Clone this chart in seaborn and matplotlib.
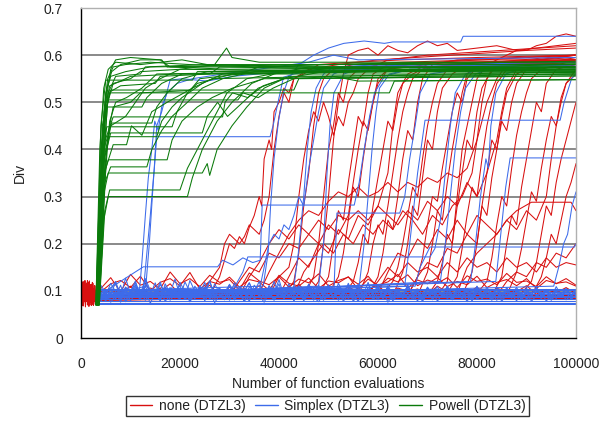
import numpy as np
import pandas as pd
import matplotlib
matplotlib.use("Agg")
import matplotlib.pyplot as plt
from matplotlib.lines import Line2D
from matplotlib.ticker import MultipleLocator, FuncFormatter
import seaborn as sns

# ---------------------------------------------------------------------------
# Diversity (Div) traces for DTZL3, one trace per run.
# Breakpoints are (evaluations in thousands, Div).
# ---------------------------------------------------------------------------

methods = ["none (DTZL3)", "Simplex (DTZL3)", "Powell (DTZL3)"]
method_colors = ["#d81010", "#3d6bea", "#0a7a0a"]

# Powell: fast rise after ~3000 evaluations, then stepwise climb to ~0.57
powell_runs = [
    [(3.0, .07), (3.9, .30), (4.6, .48), (5.4, .55), (6.5, .575), (9, .58), (14, .585), (22, .58), (35, .575), (50, .58), (70, .585), (85, .58), (100, .582)],
    [(3.2, .07), (4.2, .32), (5.0, .50), (6.0, .57), (7, .59), (10, .595), (16, .59), (18, .575), (30, .57), (50, .572), (75, .575), (100, .57)],
    [(3.4, .07), (4.4, .35), (5.5, .52), (7, .555), (12, .56), (13, .575), (25, .58), (45, .575), (65, .57), (100, .575)],
    [(3.1, .07), (4.1, .33), (4.8, .45), (5.5, .52), (8, .535), (15, .54), (16, .555), (26, .56), (28, .575), (60, .57), (100, .568)],
    [(3.5, .07), (4.6, .30), (5.6, .44), (6.5, .49), (10, .50), (12, .52), (22, .525), (24, .55), (32, .56), (36, .575), (100, .573)],
    [(3.3, .07), (4.3, .28), (5.2, .40), (6, .45), (9, .47), (11, .50), (13, .53), (16, .55), (20, .57), (27, .58), (29.4, .615), (30.5, .595), (36, .585), (100, .585)],
    [(3.6, .07), (4.6, .25), (5.5, .30), (21.5, .30), (22.5, .34), (24.5, .40), (27.5, .46), (30.5, .50), (34.5, .54), (39, .56), (46, .575), (100, .575)],
    [(3.7, .07), (4.8, .27), (5.8, .314), (20, .314), (21.5, .36), (24.5, .42), (27.5, .48), (29.5, .52), (33.5, .55), (41, .565), (100, .568)],
    [(3.4, .07), (4.5, .30), (5.5, .35), (24.5, .35), (25.5, .37), (26, .345), (27.5, .40), (30.5, .45), (33.5, .49), (37, .53), (42, .555), (100, .56)],
    [(3.6, .07), (4.8, .33), (6, .363), (13.3, .363), (14.3, .40), (16.3, .44), (18.4, .47), (21.5, .50), (24.5, .53), (28.6, .55), (35, .565), (100, .57)],
    [(3.3, .07), (4.5, .34), (5.5, .378), (17.4, .378), (18.4, .42), (20.4, .46), (23.5, .49), (26.5, .51), (30.6, .53), (37, .55), (100, .556)],
    [(3.2, .07), (4.3, .36), (5.5, .427), (15.3, .427), (16.3, .46), (18.4, .49), (20.4, .51), (24.5, .54), (28.6, .56), (100, .57)],
    [(3.5, .07), (4.7, .38), (6, .435), (24.5, .435), (25.5, .47), (27.6, .50), (29.6, .47), (32.7, .50), (35.8, .53), (41, .55), (100, .56)],
    [(3.1, .07), (4.0, .35), (5.2, .448), (18.4, .448), (19.4, .48), (21.5, .52), (23.5, .54), (30.6, .56), (100, .575)],
    [(3.4, .07), (4.6, .40), (6.2, .456), (14.3, .456), (15.3, .49), (17.4, .52), (20.4, .55), (25.5, .565), (100, .58)],
    [(3.6, .07), (4.9, .42), (6.5, .469), (28.6, .469), (29.1, .50), (30.6, .52), (33.7, .51), (36.8, .535), (41, .55), (49, .565), (100, .565)],
    [(3.0, .07), (4.0, .40), (5.0, .49), (12.3, .49), (13.3, .51), (16.3, .54), (20.4, .56), (100, .57)],
    [(3.3, .07), (4.4, .44), (5.5, .505), (31.7, .505), (32.7, .52), (35.8, .51), (38.8, .53), (43, .55), (51, .555), (56, .545), (100, .548)],
    [(3.2, .07), (4.3, .45), (5.8, .52), (62.3, .52), (63.3, .545), (100, .548)],
    [(3.4, .07), (4.5, .46), (6, .526), (43, .526), (44, .55), (100, .556)],
    [(3.1, .07), (4.0, .45), (5.0, .547), (22.5, .547), (23.5, .565), (100, .57)],
    [(3.5, .07), (4.4, .42), (5.2, .53), (6.2, .565), (8, .58), (12, .59), (16.3, .59), (17.4, .575), (100, .575)],
    [(3.0, .07), (3.8, .40), (4.6, .53), (5.5, .57), (7, .585), (12, .58), (20.4, .59), (25.5, .58), (100, .58)],
    [(3.6, .07), (4.5, .38), (5.4, .50), (6.5, .54), (10, .55), (12, .565), (20, .57), (60, .565), (100, .563)],
    [(3.3, .07), (4.2, .40), (5.0, .52), (6, .555), (9, .565), (14, .575), (100, .587)],
    [(3.2, .07), (4.1, .37), (4.9, .49), (5.8, .535), (8, .545), (10, .555), (19.4, .56), (100, .56)],
    [(3.7, .07), (5, .36), (6.5, .41), (9.2, .41), (10.2, .45), (12.3, .43), (14.3, .48), (17.4, .50), (22.5, .53), (26.5, .55), (100, .565)],
    [(3.5, .07), (4.6, .34), (5.8, .46), (7, .50), (9.2, .51), (12.3, .53), (15.3, .56), (100, .575)],
]

# Simplex: runs that leave the 0.07-0.12 band at different times
simplex_jumps = [
    [(3.5, .09), (12.6, .10), (13.3, .18), (14, .26), (14.8, .36), (15.3, .45), (16.3, .48), (18, .547), (20.4, .55), (25.5, .545), (30.6, .555), (41, .565), (56, .57), (71.5, .565), (100, .57)],
    [(3.5, .085), (13.1, .11), (13.8, .20), (14.6, .33), (15.3, .427), (38.2, .427), (38.8, .45), (39.8, .50), (40.9, .553), (43, .56), (51, .575), (71.5, .58), (100, .585)],
    [(3.5, .08), (11.8, .10), (12.3, .16), (13, .26), (13.6, .34), (14.3, .40), (14.9, .46), (15.6, .44), (16.3, .49), (17.4, .52), (19.4, .54), (22.5, .55), (28.6, .56), (35.8, .57), (46, .585), (51, .60), (56, .59), (100, .595)],
    [(3.5, .09), (12.6, .151), (27.6, .151), (28.6, .165), (30.7, .155), (32.7, .17), (34.7, .16), (36.2, .165), (36.6, .282), (55.2, .282), (56.2, .33), (57.2, .40), (58.3, .47), (59.3, .52), (61.3, .555), (66.4, .57), (100, .575)],
    [(3.5, .10), (36.8, .11), (37.8, .18), (38.3, .28), (39, .38), (39.9, .46), (40.9, .52), (41.9, .55), (44, .58), (47, .60), (50, .615), (53.1, .625), (57.2, .63), (61.3, .625), (63, .628), (76.7, .628), (77.2, .64), (100, .64)],
    [(3.5, .088), (42.9, .10), (43.9, .18), (45, .30), (45.7, .40), (46.5, .48), (47.5, .53), (49, .56), (51, .575), (61.3, .58), (100, .58)],
    [(3.5, .09), (48, .11), (49, .20), (49.7, .35), (50.3, .45), (51.1, .52), (53.1, .56), (57.2, .575), (100, .58)],
    [(3.5, .095), (30.6, .10), (32.7, .14), (33.7, .172), (70.5, .172), (71.5, .19), (72.6, .25), (73.6, .35), (74.6, .45), (75.6, .52), (77.7, .56), (81.8, .575), (100, .58)],
    [(3.5, .085), (51.1, .10), (51.7, .265), (64.4, .265), (65.4, .30), (66.4, .38), (67.5, .45), (68.5, .52), (70.5, .56), (76.7, .57), (100, .575)],
    [(3.5, .09), (65.4, .11), (66.4, .20), (68, .35), (69.5, .462), (96.8, .462), (97.6, .50), (99.1, .55), (100, .56)],
    [(3.5, .092), (83.8, .12), (84.8, .22), (85.8, .32), (86.7, .382), (100, .382)],
    [(3.5, .09), (67.5, .11), (68.5, .15), (70.5, .193), (99.7, .193), (100, .20)],
    [(3.5, .085), (72.6, .12), (73.6, .20), (74.6, .30), (75.6, .40), (76.7, .48), (77.7, .53), (79.7, .56), (83.8, .575), (100, .58)],
    [(3.5, .09), (78.7, .12), (79.7, .20), (80.7, .30), (81.8, .38), (82.3, .36), (82.8, .45), (83.8, .52), (85.8, .56), (89.9, .575), (100, .58)],
    [(3.5, .09), (56.2, .11), (57.2, .20), (58, .30), (58.8, .40), (59.6, .48), (60.3, .53), (62.3, .56), (66.4, .57), (100, .57)],
    [(3.5, .085), (95.5, .11), (96.5, .15), (97.5, .20), (98.3, .22), (99.2, .28), (100, .31)],
    [(3.5, .09), (36, .10), (37, .15), (38, .20), (39, .22), (40, .21), (41, .24), (42, .23), (43, .26), (44, .30), (45, .28), (46, .36), (47, .42), (48, .48), (49, .53), (51, .56), (55, .575), (100, .58)],
]

# Simplex runs that stay in the low band; Div in thousandths, sampled every 1000 evals from 4000
simplex_band_start = 4.0
simplex_band = [
    [95, 82, 104, 88, 112, 79, 98, 121, 86, 101, 92, 117, 84, 108, 96, 125, 89, 103, 81, 110, 94, 118, 87, 99, 106, 83, 114, 91, 102, 78, 109, 97, 120, 85, 100, 93, 115, 82, 105, 90, 111, 87, 98, 80, 107, 95, 113, 84, 101, 89, 116, 92, 103, 79, 108, 96, 111, 86, 99, 90, 104, 83, 110, 94, 100, 88, 106, 81, 97, 92, 109, 85, 102, 90, 98, 83, 105, 94, 100, 87, 108, 91, 97, 84, 103, 89, 99, 93, 106, 86, 101, 90, 96, 88, 104, 92, 98],
    [84, 101, 93, 118, 80, 106, 97, 112, 88, 123, 91, 100, 79, 115, 95, 104, 86, 119, 98, 83, 109, 92, 121, 87, 103, 96, 113, 81, 107, 99, 117, 90, 102, 85, 111, 94, 124, 88, 100, 92, 108, 82, 114, 97, 103, 89, 110, 86, 99, 94, 112, 80, 105, 91, 118, 87, 101, 95, 107, 84, 100, 92, 111, 88, 97, 83, 104, 96, 109, 90, 99, 85, 106, 93, 101, 88, 110, 82, 98, 94, 103, 87, 107, 91, 100, 85, 96, 92, 108, 89, 102, 84, 99, 93, 105, 88, 97],
    [78, 92, 85, 99, 76, 103, 88, 94, 81, 110, 86, 97, 79, 105, 91, 88, 83, 100, 77, 96, 89, 107, 82, 93, 85, 102, 80, 98, 87, 95, 78, 104, 90, 86, 99, 81, 93, 88, 101, 79, 97, 84, 106, 89, 92, 80, 100, 86, 95, 83, 103, 78, 91, 87, 98, 82, 94, 89, 101, 80, 96, 85, 92, 88, 99, 79, 95, 84, 102, 87, 91, 82, 97, 86, 93, 80, 100, 88, 94, 83, 96, 78, 92, 87, 99, 81, 95, 85, 90, 84, 98, 80, 93, 86, 97, 82, 91],
    [105, 90, 116, 98, 88, 127, 94, 109, 85, 113, 100, 92, 119, 87, 104, 96, 111, 83, 122, 99, 90, 108, 86, 115, 95, 102, 89, 117, 93, 106, 84, 112, 97, 101, 88, 120, 91, 105, 86, 110, 98, 94, 114, 89, 103, 92, 108, 85, 116, 96, 100, 90, 111, 87, 104, 93, 109, 82, 106, 97, 102, 88, 113, 91, 99, 86, 107, 94, 103, 89, 110, 92, 98, 84, 105, 95, 101, 87, 108, 90, 97, 93, 104, 86, 100, 91, 106, 88, 99, 94, 102, 85, 109, 90, 98, 92, 103],
    [88, 79, 95, 83, 101, 77, 91, 86, 98, 80, 94, 87, 103, 78, 90, 85, 97, 82, 92, 88, 100, 79, 95, 84, 89, 81, 96, 86, 93, 78, 99, 83, 90, 87, 94, 80, 97, 85, 91, 82, 98, 79, 93, 88, 95, 81, 90, 84, 99, 78, 92, 86, 96, 80, 94, 83, 89, 87, 97, 79, 91, 85, 95, 82, 93, 78, 98, 84, 90, 86, 96, 81, 92, 83, 94, 79, 97, 85, 91, 80, 95, 84, 89, 87, 93, 82, 96, 78, 90, 85, 94, 81, 92, 86, 97, 83, 90],
    [112, 96, 104, 120, 89, 108, 99, 116, 93, 126, 101, 87, 114, 95, 107, 91, 118, 98, 103, 86, 111, 97, 121, 90, 105, 94, 113, 88, 109, 100, 117, 92, 102, 85, 110, 96, 106, 89, 115, 93, 101, 87, 108, 95, 112, 90, 104, 86, 109, 97, 103, 91, 114, 88, 100, 94, 107, 85, 111, 92, 98, 89, 105, 96, 102, 87, 108, 91, 99, 93, 106, 84, 101, 95, 104, 88, 109, 90, 97, 92, 103, 86, 100, 94, 107, 89, 98, 91, 105, 87, 102, 93, 99, 88, 104, 90, 96],
    [82, 97, 76, 90, 85, 104, 79, 93, 88, 99, 74, 96, 83, 107, 80, 92, 86, 101, 77, 95, 89, 84, 98, 75, 91, 87, 103, 81, 94, 78, 100, 85, 90, 76, 97, 83, 92, 88, 105, 79, 95, 82, 99, 86, 77, 93, 89, 102, 80, 96, 84, 91, 78, 98, 87, 94, 81, 100, 76, 92, 85, 97, 83, 89, 79, 95, 86, 101, 78, 93, 84, 90, 88, 96, 77, 99, 82, 92, 85, 94, 80, 97, 87, 91, 79, 95, 83, 89, 86, 98, 78, 93, 84, 96, 81, 90, 87],
]

# Simplex runs that settle at a constant Div
simplex_flat = [0.072, 0.075, 0.079, 0.083, 0.086, 0.090, 0.093, 0.097, 0.101, 0.105]

# No local search: runs climbing late and irregularly
none_jumps = [
    [(0, .085), (26, .09), (28, .13), (30, .2), (31, .19), (32, .215), (33, .2), (34, .235), (35, .26), (36, .30), (36.5, .28), (37, .38), (38, .42), (38.5, .40), (39, .48), (40, .50), (41, .53), (42, .52), (43, .55), (45, .56), (48, .58), (55, .585), (65, .59), (80, .595), (100, .60)],
    [(0, .09), (24, .095), (26, .12), (28, .15), (29, .20), (30, .22), (31, .21), (32, .20), (33, .215), (34, .24), (35, .23), (36, .22), (37, .25), (38, .30), (39, .40), (40, .47), (41, .52), (42, .50), (43, .55), (46, .57), (52, .58), (60, .59), (75, .60), (90, .61), (100, .615)],
    [(0, .08), (38, .09), (40, .13), (42, .15), (43, .20), (44, .30), (45, .38), (46, .44), (47, .48), (48, .46), (49, .50), (50, .47), (51, .43), (52, .47), (53, .45), (54, .50), (55, .52), (56, .55), (58, .57), (62, .59), (70, .60), (85, .61), (100, .62)],
    [(0, .088), (41, .09), (43, .12), (44, .18), (45, .28), (46, .35), (47, .45), (48, .52), (49, .55), (51, .57), (55, .58), (65, .585), (80, .59), (100, .59)],
    [(0, .082), (45, .09), (47, .13), (48, .20), (49, .30), (50, .40), (51, .45), (52, .52), (53, .50), (54, .55), (56, .57), (60, .58), (70, .575), (85, .585), (100, .58)],
    [(0, .09), (36, .095), (38, .14), (40, .18), (42, .22), (44, .25), (46, .27), (48, .26), (50, .29), (52, .31), (54, .30), (56, .32), (58, .30), (60, .31), (62, .33), (64, .31), (66, .33), (68, .32), (70, .34), (72, .33), (74, .35), (76, .34), (78, .36), (80, .42), (82, .50), (84, .55), (86, .58), (100, .60)],
    [(0, .086), (46, .09), (48, .12), (49, .20), (50, .30), (51, .42), (52, .50), (53, .56), (54, .60), (56, .61), (58, .615), (60, .60), (62, .62), (64, .61), (66, .605), (68, .62), (70, .63), (72, .62), (74, .625), (76, .61), (80, .615), (84, .62), (88, .61), (92, .615), (96, .62), (100, .625)],
    [(0, .079), (72, .09), (74, .12), (75, .20), (76, .30), (77, .40), (78, .45), (79, .50), (80, .55), (82, .58), (84, .59), (86, .60), (88, .61), (90, .61), (92, .62), (94, .625), (96, .64), (98, .645), (100, .64)],
    [(0, .092), (50, .095), (52, .13), (53, .18), (54, .25), (55, .32), (56, .30), (57, .38), (58, .45), (59, .50), (60, .55), (62, .57), (66, .58), (75, .585), (100, .59)],
    [(0, .084), (53, .09), (55, .12), (56, .16), (57, .22), (58, .20), (59, .28), (60, .34), (61, .40), (62, .46), (63, .44), (64, .50), (65, .54), (67, .56), (70, .575), (80, .58), (100, .585)],
    [(0, .088), (56, .09), (58, .14), (59, .20), (60, .24), (61, .22), (62, .28), (63, .35), (64, .42), (65, .48), (66, .52), (67, .55), (69, .57), (75, .58), (100, .595)],
    [(0, .081), (58, .09), (60, .13), (61, .18), (62, .25), (63, .23), (64, .30), (65, .38), (66, .44), (67, .42), (68, .50), (69, .55), (71, .58), (76, .59), (100, .60)],
    [(0, .09), (61, .095), (63, .12), (64, .15), (65, .20), (66, .26), (67, .32), (68, .30), (69, .38), (70, .45), (71, .50), (72, .54), (74, .57), (80, .58), (100, .585)],
    [(0, .085), (63, .09), (65, .14), (66, .20), (67, .28), (68, .26), (69, .34), (70, .42), (71, .40), (72, .48), (73, .53), (75, .56), (78, .58), (100, .60)],
    [(0, .083), (66, .09), (68, .13), (69, .17), (70, .24), (71, .30), (72, .29), (73, .36), (74, .42), (75, .48), (76, .52), (77, .50), (78, .55), (80, .575), (90, .585), (100, .59)],
    [(0, .087), (68, .09), (70, .14), (71, .20), (72, .27), (73, .25), (74, .33), (75, .40), (76, .46), (77, .52), (78, .56), (80, .58), (100, .59)],
    [(0, .08), (70, .09), (72, .12), (73, .16), (74, .22), (75, .20), (76, .28), (77, .35), (78, .42), (79, .40), (80, .48), (81, .53), (83, .57), (90, .58), (100, .585)],
    [(0, .089), (74, .095), (76, .13), (77, .19), (78, .26), (79, .32), (80, .30), (81, .38), (82, .45), (83, .50), (84, .54), (86, .57), (90, .585), (100, .59)],
    [(0, .084), (77, .09), (79, .14), (80, .20), (81, .28), (82, .26), (83, .34), (84, .40), (85, .46), (86, .44), (87, .50), (88, .54), (90, .57), (100, .58)],
    [(0, .091), (80, .095), (82, .12), (83, .17), (84, .24), (85, .30), (86, .28), (87, .36), (88, .43), (89, .48), (90, .52), (91, .55), (93, .57), (100, .59)],
    [(0, .086), (83, .09), (85, .13), (86, .20), (87, .26), (88, .24), (89, .32), (90, .38), (91, .44), (92, .50), (93, .48), (94, .54), (96, .57), (100, .58)],
    [(0, .082), (86, .09), (88, .14), (89, .19), (90, .25), (91, .31), (92, .29), (93, .36), (94, .42), (95, .47), (96, .45), (97, .51), (98, .54), (100, .56)],
    [(0, .088), (89, .095), (91, .12), (92, .16), (93, .22), (94, .28), (95, .26), (96, .33), (97, .38), (98, .42), (99, .46), (100, .50)],
    [(0, .085), (91, .09), (93, .13), (94, .17), (95, .22), (96, .20), (97, .25), (98, .30), (99, .33), (100, .37)],
    [(0, .09), (76, .095), (78, .15), (80, .18), (82, .20), (84, .22), (86, .25), (88, .27), (91, .288), (99, .288), (100, .27)],
    [(0, .083), (32, .09), (34, .13), (36, .16), (38, .20), (40, .23), (42, .21), (44, .24), (46, .22), (48, .25), (50, .23), (52, .26), (54, .25), (56, .27), (58, .25), (60, .28), (62, .35), (63, .45), (64, .52), (66, .56), (70, .58), (100, .59)],
    [(0, .087), (43, .09), (45, .14), (47, .17), (49, .20), (51, .18), (53, .22), (55, .20), (57, .24), (59, .22), (61, .25), (63, .23), (65, .27), (67, .25), (69, .22), (71, .26), (73, .24), (75, .28), (77, .30), (79, .35), (80, .42), (81, .50), (82, .55), (84, .58), (100, .60)],
    [(0, .09), (58, .095), (60, .12), (62, .15), (64, .13), (66, .16), (68, .14), (70, .15), (72, .13), (74, .16), (76, .14), (78, .17), (80, .15), (82, .16), (84, .14), (86, .17), (88, .15), (90, .16), (92, .14), (94, .17), (96, .15), (98, .16), (100, .155)],
    [(0, .085), (30, .09), (32, .12), (34, .15), (36, .14), (38, .18), (40, .17), (42, .20), (44, .19), (46, .22), (48, .20), (50, .24), (52, .22), (54, .26), (55, .33), (56, .40), (57, .46), (58, .44), (59, .50), (60, .54), (62, .57), (70, .58), (100, .585)],
    [(0, .088), (40, .09), (42, .13), (44, .17), (46, .15), (48, .20), (50, .18), (52, .23), (54, .21), (56, .26), (58, .24), (60, .28), (62, .26), (64, .24), (66, .27), (68, .25), (70, .29), (72, .27), (74, .30), (76, .28), (78, .33), (80, .30), (82, .35), (84, .42), (85, .48), (86, .53), (88, .57), (100, .59)],
    [(0, .082), (48, .09), (50, .13), (51, .20), (52, .27), (53, .25), (54, .33), (55, .40), (56, .47), (57, .45), (58, .52), (59, .56), (62, .58), (100, .60)],
    [(0, .09), (60, .095), (62, .14), (64, .18), (66, .17), (68, .21), (70, .19), (72, .23), (74, .21), (76, .25), (78, .22), (80, .26), (82, .24), (84, .22), (86, .25), (88, .23), (90, .27), (92, .25), (94, .30), (95, .38), (96, .45), (97, .50), (98, .54), (100, .57)],
    [(0, .086), (84, .09), (86, .12), (88, .14), (90, .13), (92, .16), (94, .15), (96, .18), (98, .17), (100, .20)],
    [(0, .084), (66, .09), (68, .13), (70, .16), (72, .15), (74, .19), (76, .18), (78, .22), (80, .20), (81, .28), (82, .35), (83, .42), (84, .40), (85, .47), (86, .52), (88, .56), (92, .58), (100, .595)],
]

# No local search: first 3500 evaluations, Div in thousandths, every 100 evals
none_start_block = [
    [95, 72, 110, 80, 118, 68, 104, 88, 122, 75, 99, 84, 115, 70, 108, 92, 119, 77, 101, 86, 113, 69, 97, 90, 116, 74, 105, 83, 111, 71, 100, 87, 95, 76, 90],
    [80, 105, 68, 97, 112, 74, 120, 85, 93, 66, 108, 79, 117, 90, 72, 103, 88, 121, 70, 95, 82, 114, 77, 99, 106, 69, 91, 110, 84, 73, 102, 86, 94, 80, 88],
    [110, 88, 76, 119, 92, 70, 100, 83, 115, 73, 96, 108, 79, 122, 87, 94, 67, 105, 90, 113, 75, 98, 84, 118, 71, 103, 89, 111, 78, 97, 85, 107, 81, 92, 86],
]

# No local search: low band runs, Div in thousandths, every 2000 evals from 4000
none_band_start = 4.0
none_band = [
    [105, 128, 98, 135, 112, 120, 104, 140, 115, 126, 109, 133, 118, 124, 102, 138, 121, 113, 130, 108, 125, 117, 136, 110, 122, 129, 114, 131, 106, 127, 119, 134, 111, 123, 116, 128, 107, 132, 120, 125, 113, 137, 118, 121, 109, 130, 115, 126, 112],
    [98, 115, 122, 107, 131, 100, 118, 126, 111, 139, 104, 120, 114, 129, 108, 124, 119, 101, 133, 116, 110, 127, 105, 121, 117, 130, 103, 125, 112, 119, 135, 106, 123, 115, 128, 109, 120, 113, 131, 107, 118, 124, 111, 126, 105, 122, 116, 119, 110],
    [90, 102, 95, 110, 88, 106, 99, 115, 92, 104, 97, 112, 89, 108, 100, 96, 111, 93, 105, 98, 114, 91, 103, 107, 94, 109, 96, 101, 113, 90, 106, 99, 104, 92, 110, 97, 102, 95, 108, 91, 105, 100, 98, 111, 93, 103, 96, 107, 94],
]
none_flat = [0.078, 0.084, 0.092]

x_ticks = [0, 20000, 40000, 60000, 80000, 100000]
y_ticks = [0, 0.1, 0.2, 0.3, 0.4, 0.5, 0.6, 0.7]

# ---------------------------------------------------------------------------
# Long-form table: one row per recorded point
# ---------------------------------------------------------------------------
rows = []
run_id = [0]


def add_points(method, xs_k, ys):
    rid = run_id[0]
    run_id[0] += 1
    for xk, y in zip(xs_k, ys):
        rows.append((method, rid, xk * 1000.0, y))


def add_breakpoints(method, pts):
    add_points(method, [p[0] for p in pts], [p[1] for p in pts])


def add_sampled(method, start_k, step_k, milli):
    xs = start_k + step_k * np.arange(len(milli))
    add_points(method, xs, [m / 1000.0 for m in milli])


m_none, m_simplex, m_powell = methods

for seq in none_start_block:
    add_sampled(m_none, 0.0, 0.1, seq)
for seq in none_band:
    add_sampled(m_none, none_band_start, 2.0, seq)
for lvl in none_flat:
    add_breakpoints(m_none, [(0, lvl), (100, lvl)])
for pts in none_jumps:
    add_breakpoints(m_none, pts)

for lvl in simplex_flat:
    add_breakpoints(m_simplex, [(3.5, lvl), (100, lvl)])
for seq in simplex_band:
    add_sampled(m_simplex, simplex_band_start, 1.0, seq)
for pts in simplex_jumps:
    add_breakpoints(m_simplex, pts)

for pts in powell_runs:
    add_breakpoints(m_powell, pts)

df = pd.DataFrame(rows, columns=["method", "run", "evaluations", "div"])

# ---------------------------------------------------------------------------
# Figure
# ---------------------------------------------------------------------------
sns.set_theme(style="white")
plt.rcParams["font.family"] = ["Liberation Sans", "DejaVu Sans"]

W, H = 601, 423
fig = plt.figure(figsize=(W / 100, H / 100), dpi=100)
ax = fig.add_axes([81 / W, (H - 338) / H, 495 / W, 330 / H])

palette = dict(zip(methods, method_colors))
sns.lineplot(
    data=df, x="evaluations", y="div", hue="method", hue_order=methods,
    units="run", estimator=None, sort=False, palette=palette,
    linewidth=0.75, legend=False, ax=ax,
)

ax.set_xlim(0, 100000)
ax.set_ylim(0, 0.7)
ax.set_xticks(x_ticks)
ax.set_yticks(y_ticks)
ax.xaxis.set_minor_locator(MultipleLocator(4000))
ax.yaxis.set_minor_locator(MultipleLocator(0.02))
ax.xaxis.set_major_formatter(FuncFormatter(lambda v, p: f"{int(round(v))}"))
ax.yaxis.set_major_formatter(FuncFormatter(lambda v, p: f"{v:g}"))
ax.tick_params(axis="both", which="major", direction="out", length=5, width=1,
               color="black", labelsize=10, labelcolor="#222222")
ax.tick_params(axis="both", which="minor", direction="out", length=3, width=1,
               color="black")
ax.tick_params(axis="x", which="major", pad=9)
ax.tick_params(axis="y", which="major", pad=8)

ax.grid(False)
for yv in y_ticks[1:-1]:
    ax.axhline(yv, color="#808080", linewidth=1.3, zorder=0.5)

for side in ("left", "bottom"):
    ax.spines[side].set_color("black")
    ax.spines[side].set_linewidth(1.0)
for side in ("top", "right"):
    ax.spines[side].set_color("#b0b0b0")
    ax.spines[side].set_linewidth(1.0)

ax.set_xlabel("Number of function evaluations", fontsize=10, color="#222222", labelpad=4)
ax.set_ylabel("Div", fontsize=10, color="#222222", labelpad=12)

handles = [Line2D([0], [0], color=c, linewidth=1.0) for c in method_colors]
leg = fig.legend(
    handles, methods, loc="center", bbox_to_anchor=(327.5 / W, 1 - 406 / H),
    ncol=3, frameon=True, fancybox=False, fontsize=10, handlelength=1.6,
    handletextpad=0.5, columnspacing=0.7, borderpad=0.25, borderaxespad=0,
)
leg.get_frame().set_edgecolor("black")
leg.get_frame().set_linewidth(1.0)
for t in leg.get_texts():
    t.set_color("#222222")

fig.savefig("out.png", dpi=100)
